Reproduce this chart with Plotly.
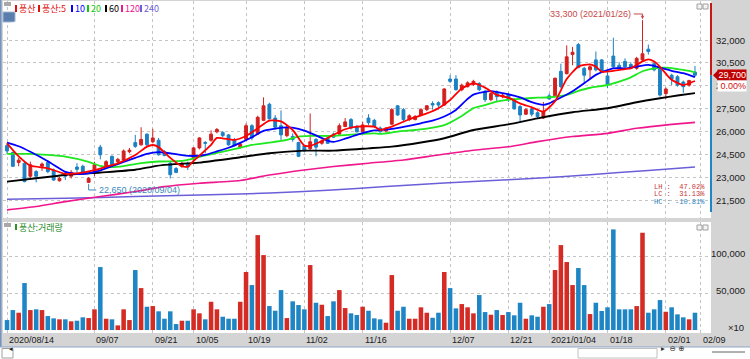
import plotly.graph_objects as go

# ---------------- data ----------------
dates = [
    "2020-08-14", "2020-08-18", "2020-08-19", "2020-08-20", "2020-08-21", "2020-08-24", "2020-08-25",
    "2020-08-26", "2020-08-27", "2020-08-28", "2020-08-31", "2020-09-01", "2020-09-02", "2020-09-03",
    "2020-09-04", "2020-09-07", "2020-09-08", "2020-09-09", "2020-09-10", "2020-09-11", "2020-09-14",
    "2020-09-15", "2020-09-16", "2020-09-17", "2020-09-18", "2020-09-21", "2020-09-22", "2020-09-23",
    "2020-09-24", "2020-09-25", "2020-09-28", "2020-09-29", "2020-10-05", "2020-10-06", "2020-10-07",
    "2020-10-08", "2020-10-12", "2020-10-13", "2020-10-14", "2020-10-15", "2020-10-16", "2020-10-19",
    "2020-10-20", "2020-10-21", "2020-10-22", "2020-10-23", "2020-10-26", "2020-10-27", "2020-10-28",
    "2020-10-29", "2020-10-30", "2020-11-02", "2020-11-03", "2020-11-04", "2020-11-05", "2020-11-06",
    "2020-11-09", "2020-11-10", "2020-11-11", "2020-11-12", "2020-11-13", "2020-11-16", "2020-11-17",
    "2020-11-18", "2020-11-19", "2020-11-20", "2020-11-23", "2020-11-24", "2020-11-25", "2020-11-26",
    "2020-11-27", "2020-11-30", "2020-12-01", "2020-12-02", "2020-12-03", "2020-12-04", "2020-12-07",
    "2020-12-08", "2020-12-09", "2020-12-10", "2020-12-11", "2020-12-14", "2020-12-15", "2020-12-16",
    "2020-12-17", "2020-12-18", "2020-12-21", "2020-12-22", "2020-12-23", "2020-12-24", "2020-12-28",
    "2020-12-29", "2020-12-30", "2021-01-04", "2021-01-05", "2021-01-06", "2021-01-07", "2021-01-08",
    "2021-01-11", "2021-01-12", "2021-01-13", "2021-01-14", "2021-01-15", "2021-01-18", "2021-01-19",
    "2021-01-20", "2021-01-21", "2021-01-22", "2021-01-25", "2021-01-26", "2021-01-27", "2021-01-28",
    "2021-01-29", "2021-02-01", "2021-02-02", "2021-02-03", "2021-02-04", "2021-02-05", "2021-02-08",
]

opens = [25100, 24650, 24000, 23950, 23100, 23400, 23750, 24000, 23500, 22800,
         23300, 23100, 23700, 23750, 22700, 23300, 25000, 23750, 24400, 24050,
         24150, 24700, 25300, 25150, 25850, 25350, 25450, 24700, 23950, 23600,
         23750, 23900, 24250, 24950, 25300, 25450, 26000, 25950, 25800, 25500,
         25000, 25500, 26400, 25850, 26750, 27800, 26900, 26400, 25750, 25700,
         25300, 25100, 24900, 25500, 25250, 25600, 25850, 25850, 26350, 26800,
         26350, 26000, 26900, 26750, 26250, 26050, 26500, 27700, 27450, 26800,
         26800, 27100, 27450, 27850, 27900, 27750, 29450, 29450, 28750, 28950,
         29100, 29150, 28650, 28100, 28600, 28300, 28450, 28100, 27650, 27150,
         27500, 27250, 26900, 28350, 28350, 29950, 29800, 31050, 31700, 30150,
         30050, 30700, 30700, 29650, 30950, 30350, 30600, 30400, 30150, 30700,
         31400, 30450, 30150, 28500, 29700, 29600, 29250, 29050, 29900]
highs = [25250, 24700, 24300, 24050, 24050, 23500, 24000, 24150, 23600, 23050,
         23400, 23500, 23950, 23850, 23050, 24050, 25150, 24150, 24450, 24300,
         24850, 24950, 25800, 26300, 25900, 26200, 25600, 24800, 24050, 23700,
         24050, 24050, 25000, 25650, 25400, 26100, 26250, 26050, 25850, 25600,
         25300, 26550, 26500, 27050, 28250, 27900, 27100, 27400, 26400, 25900,
         25350, 25150, 27200, 25600, 25500, 25700, 25950, 26550, 26900, 26900,
         26450, 26650, 27150, 26850, 26350, 26300, 27550, 27750, 27550, 27150,
         27100, 27550, 27750, 28000, 28000, 28850, 29700, 29700, 29150, 29300,
         29400, 29250, 28750, 28600, 28700, 28500, 28550, 28200, 27750, 27550,
         27650, 27350, 27950, 28500, 29550, 30450, 31650, 31550, 31800, 30250,
         30400, 31250, 30750, 29900, 32150, 30550, 30800, 30550, 30900, 33300,
         31700, 30600, 30250, 28900, 29800, 29700, 29350, 29400, 30300]
lows = [24550, 23700, 23750, 22700, 22950, 22700, 23450, 23300, 22800, 22750,
        22850, 22950, 23300, 23250, 22650, 23100, 24200, 23650, 23750, 23950,
        24100, 24600, 24950, 25100, 25050, 25250, 24450, 24400, 22950, 23300,
        23650, 23500, 24150, 24850, 24600, 25350, 25900, 25650, 25100, 25050,
        24900, 25450, 25450, 25800, 26700, 26800, 26150, 25450, 25650, 25350,
        24350, 24700, 24800, 24400, 25150, 25200, 25600, 25800, 26300, 26150,
        25950, 25950, 26450, 26250, 25950, 25950, 26450, 27050, 26700, 26700,
        26750, 27050, 27350, 27450, 27450, 27700, 29200, 28700, 28650, 28900,
        29000, 28650, 27950, 28000, 28000, 28200, 27950, 27450, 26700, 27100,
        27000, 26900, 26850, 28100, 28300, 28850, 29750, 30350, 30150, 29150,
        29500, 29950, 29900, 28850, 30150, 30100, 30150, 30100, 30050, 30600,
        31050, 29950, 28300, 28150, 29050, 28950, 28550, 28950, 29600]
closes = [24750, 23750, 24150, 22750, 23850, 23100, 23900, 23400, 22850, 22950,
          23100, 23350, 23550, 23300, 22950, 23850, 24500, 24050, 23850, 24200,
          24750, 24800, 25050, 25500, 25150, 25600, 24500, 24450, 23200, 23350,
          23950, 23700, 24950, 25600, 25250, 25850, 26150, 25750, 25150, 25100,
          25200, 26400, 25600, 26950, 27700, 26850, 26300, 25800, 26300, 25500,
          24400, 24750, 25350, 25000, 25400, 25250, 25650, 26400, 26650, 26250,
          26000, 26450, 26600, 26350, 26000, 26250, 27450, 27100, 26800, 27050,
          27000, 27450, 27700, 27750, 27750, 28800, 29300, 28750, 29050, 29200,
          29300, 28750, 28100, 28500, 28300, 28400, 28100, 27500, 27100, 27450,
          27150, 27000, 27300, 28150, 29500, 28950, 30900, 31200, 30200, 29700,
          30250, 30050, 29950, 29100, 30250, 30150, 30250, 30150, 30800, 31100,
          31250, 30050, 28400, 28800, 29450, 29050, 28950, 29350, 29700]

# volume, in axis units (x10)
volumes = [13500, 27000, 23400, 63500, 27000, 28000, 27000, 18900, 15800, 14500,
           14500, 11800, 12600, 17200, 16200, 28000, 85100, 15300, 14500, 6300,
           28000, 13500, 81100, 56700, 31500, 32400, 25300, 15300, 25300, 8100,
           12600, 12600, 28000, 22600, 14500, 38200, 28000, 18000, 15300, 15300,
           38200, 78400, 60800, 128300, 101300, 32400, 26100, 54000, 16200, 38800,
           33800, 28000, 87800, 36900, 34200, 18900, 38800, 54000, 29700, 22600,
           20300, 31500, 26100, 15800, 14500, 9900, 74300, 26100, 31500, 15300,
           15300, 30700, 23400, 16600, 23400, 78400, 56700, 29300, 35100, 30700,
           22600, 47300, 24300, 20700, 27000, 20300, 24300, 19900, 36900, 15300,
           19900, 18000, 31500, 35100, 81100, 114800, 91900, 60800, 83800, 60800,
           21600, 36900, 25700, 30700, 136000, 28000, 28000, 28000, 32400, 131500,
           23400, 28000, 40500, 24700, 30700, 21200, 17200, 14500, 23400]
# R = red (up) bar, B = blue (down) bar
vol_dir = ("BBRBRBRBBR" "BRBBRRBRBR" "RRBRBRBBBB" "RBRRBRRBBB" "RRBRRBBBRB"
           "BBRBRBBRRB" "BRBBBRRBBR" "RRRBBRBBRR" "RBBRBRBBBR" "BBRBRRRRBB"
           "RBBBBBBBRR" "BBBRBBBRB")

# moving averages: sample points (trading-day index, price)
ma5_x = [0, 2, 4, 7, 10, 12, 15, 17, 19, 22, 24, 25, 26, 28, 30, 31, 32, 35, 36, 39, 41, 43, 45, 47,
         49, 51, 52, 54, 56, 58, 60, 63, 64, 66, 69, 72, 74, 76, 78, 80, 82, 84, 86, 88, 90, 92, 94,
         96, 98, 100, 101, 102, 104, 106, 107, 109, 110, 111, 112, 113, 114, 116, 117, 118]
ma5_y = [25250, 24400, 23800, 23620, 23250, 23290, 23500, 23720, 23940, 24480, 25030, 25140, 25000,
         24300, 23750, 23730, 24100, 25150, 25600, 25470, 25730, 26230, 26730, 26680, 26120, 25100,
         25080, 25400, 25800, 26170, 26340, 26340, 26120, 26340, 26820, 27200, 27540, 28080, 28830,
         29170, 28890, 28410, 28230, 27860, 27600, 27320, 28000, 29450, 30260, 30410, 30260, 29930,
         29980, 30100, 30150, 30600, 30740, 30590, 30250, 29800, 29400, 29050, 29170, 29320]
ma10_x = [0, 2, 4, 7, 9, 10, 12, 14, 16, 18, 20, 22, 24, 26, 27, 30, 32, 34, 36, 38, 40, 42, 44, 46,
          48, 50, 51, 53, 55, 56, 58, 60, 63, 64, 66, 68, 71, 73, 75, 77, 79, 80, 83, 85, 88, 90, 92,
          93, 95, 97, 99, 101, 104, 106, 108, 110, 112, 114, 116, 118]
ma10_y = [25300, 25060, 24700, 24080, 23600, 23380, 23250, 23290, 23480, 23750, 24030, 24300, 24560,
          24680, 24650, 24480, 24420, 24500, 24720, 24960, 25280, 25650, 26060, 26210, 26290, 26200,
          26080, 25770, 25420, 25340, 25550, 25800, 26090, 26120, 26190, 26320, 26560, 26730, 27000,
          27430, 28150, 28430, 28660, 28530, 28250, 27940, 27760, 27860, 28240, 28650, 29170, 29720,
          30150, 30150, 30260, 30370, 30200, 29990, 29830, 29580]
ma20_x = [0, 4, 7, 10, 14, 16, 18, 20, 23, 26, 30, 32, 34, 38, 40, 42, 45, 48, 50, 52, 56, 59, 63,
          64, 67, 70, 72, 75, 78, 80, 82, 84, 87, 89, 91, 93, 96, 98, 100, 103, 105, 107, 109, 111,
          113, 115, 117, 118]
ma20_y = [24560, 24560, 24490, 24380, 24040, 23770, 23690, 23760, 23960, 24060, 24100, 24250, 24460,
          24790, 24960, 25140, 25300, 25480, 25680, 25730, 25730, 25820, 25900, 25860, 26010, 26120,
          26210, 26440, 27040, 27550, 27750, 27970, 28130, 28190, 28230, 28260, 28420, 28670, 28880,
          29060, 29280, 29560, 29960, 30150, 30190, 30100, 29980, 29880]
ma60_x = [0, 5, 10, 16, 22, 25, 27, 33, 40, 45, 51, 56, 62, 66, 71, 75, 80, 86, 91, 97, 103, 108,
          112, 115, 118]
ma60_y = [22750, 22970, 23180, 23340, 23520, 23730, 23840, 23990, 24340, 24600, 24770, 24770, 24920,
          25030, 25300, 25580, 26120, 26490, 26880, 27280, 27540, 27930, 28190, 28370, 28530]
ma120_x = [0, 5, 10, 16, 22, 27, 33, 40, 45, 51, 56, 62, 68, 74, 80, 86, 91, 97, 103, 108, 114, 118]
ma120_y = [20900, 21120, 21440, 21770, 22100, 22420, 22640, 22820, 23180, 23510, 23730, 23950,
           24160, 24490, 24800, 25030, 25360, 25690, 25900, 26230, 26490, 26620]
ma240_x = [0, 10, 22, 33, 40, 50, 60, 70, 80, 90, 100, 110, 118]
ma240_y = [21590, 21660, 21770, 21880, 21940, 22080, 22300, 22550, 22750, 22950, 23200, 23480, 23710]

price_ticks = [21500, 23000, 24500, 26000, 27500, 29000, 30500, 32000]
volume_ticks = [50000, 100000]
date_ticks = [("2020-08-14", "2020/08/14"), ("2020-09-07", "09/07"), ("2020-09-21", "09/21"),
              ("2020-10-05", "10/05"), ("2020-10-19", "10/19"), ("2020-11-02", "11/02"),
              ("2020-11-16", "11/16"), ("2020-12-07", "12/07"), ("2020-12-21", "12/21"),
              ("2021-01-04", "2021/01/04"), ("2021-01-18", "01/18"), ("2021-02-01", "02/01"),
              ("2021-02-09", "02/09")]

last_price = 29700
last_change = "0.00%"
high_point = (33300, "2021-01-26")
low_point = (22650, "2020-09-04")
stats = [("LH :  47.02%", "#c83434"), ("LC :  31.13%", "#c83434"), ("HC : -10.81%", "#2a82c0")]

# ---------------- layout helpers (pixel -> paper) ----------------
W, H = 750, 359
ML, MR, MT, MB = 3, 39, 1, 26


def px(x):
    return (x - ML) / (W - ML - MR)


def py(y):
    return (H - MB - y) / (H - MT - MB)


RED = "#d22020"
BLUE = "#1c80c4"
GRID = "#c4c4c4"
NUMFONT = "Liberation Sans"
KFONT = "Noto Sans CJK KR"

idx = list(range(len(dates)))
tick_pos = [dates.index(d) if d in dates else len(dates) for d, _ in date_ticks]

fig = go.Figure()

fig.add_trace(go.Candlestick(
    x=idx, open=opens, high=highs, low=lows, close=closes,
    increasing=dict(line=dict(color=RED, width=1), fillcolor=RED),
    decreasing=dict(line=dict(color=BLUE, width=1), fillcolor=BLUE),
    whiskerwidth=0, showlegend=False, hoverinfo="skip", xaxis="x", yaxis="y"))

ma_specs = [(ma240_x, ma240_y, "#6a5fd8", 1.5), (ma120_x, ma120_y, "#f0168c", 1.6),
            (ma60_x, ma60_y, "#000000", 1.9), (ma20_x, ma20_y, "#1ee81e", 1.8),
            (ma10_x, ma10_y, "#0000ff", 1.8), (ma5_x, ma5_y, "#ff0000", 1.8)]
for mx, my, col, wdt in ma_specs:
    fig.add_trace(go.Scatter(x=mx, y=my, mode="lines",
                             line=dict(color=col, width=wdt, shape="spline", smoothing=0.6),
                             showlegend=False, hoverinfo="skip", xaxis="x", yaxis="y"))

vol_colors = ["#d42b25" if c == "R" else "#1f86c6" for c in vol_dir]
fig.add_trace(go.Bar(x=idx, y=volumes, marker=dict(color=vol_colors, line=dict(width=0)),
                     width=0.78, showlegend=False, hoverinfo="skip", xaxis="x2", yaxis="y2"))

xr = [-0.69, 120.75]
common_x = dict(range=xr, showticklabels=False, tickvals=tick_pos, showgrid=True,
                gridcolor=GRID, griddash="dot", gridwidth=1, zeroline=False,
                showline=False, ticks="", fixedrange=True)
fig.update_layout(
    width=W, height=H,
    margin=dict(l=ML, r=MR, t=MT, b=MB),
    paper_bgcolor="#d4d4d4", plot_bgcolor="#ffffff",
    showlegend=False, boxgap=0.3,
    xaxis=dict(anchor="y", domain=[0, 1], rangeslider=dict(visible=False), **common_x),
    xaxis2=dict(anchor="y2", domain=[0, 1], matches="x", **common_x),
    yaxis=dict(domain=[py(218), 1], range=[20370, 34548], side="right", tickvals=price_ticks,
               showticklabels=False, showgrid=True, gridcolor=GRID, griddash="dot",
               zeroline=False, showline=False, ticks=""),
    yaxis2=dict(domain=[0, py(222)], range=[-4000, 146000], side="right", tickvals=volume_ticks,
                showticklabels=False, showgrid=True, gridcolor=GRID, griddash="dot",
                zeroline=False, showline=False, ticks=""),
)

shapes = []
ann = []

# right-edge current price indicator
shapes.append(dict(type="line", xref="paper", yref="y", x0=1, x1=1, y0=last_price, y1=34420,
                   line=dict(color="#c81818", width=2)))
shapes.append(dict(type="line", xref="paper", yref="y", x0=1, x1=1, y0=20770, y1=last_price,
                   line=dict(color="#1f86c6", width=2)))
# window left border
shapes.append(dict(type="line", xref="paper", yref="paper", x0=px(0.8), x1=px(0.8), y0=py(347),
                   y1=py(0), line=dict(color="#7090c0", width=1.5)))
# bottom scroll strip
shapes.append(dict(type="rect", xref="paper", yref="paper", x0=px(0), x1=px(750), y0=py(359),
                   y1=py(347), fillcolor="#ffffff", line=dict(width=0)))
shapes.append(dict(type="line", xref="paper", yref="paper", x0=px(0), x1=px(750), y0=py(347),
                   y1=py(347), line=dict(color="#8fa6c6", width=1)))
shapes.append(dict(type="rect", xref="paper", yref="paper", x0=px(2), x1=px(13), y0=py(358),
                   y1=py(348.5), fillcolor="#ffffff", line=dict(color="#a0a0a0", width=1)))
shapes.append(dict(type="rect", xref="paper", yref="paper", x0=px(578), x1=px(657), y0=py(358),
                   y1=py(348.5), fillcolor="#ffffff", line=dict(color="#c0c0c0", width=1)))
shapes.append(dict(type="line", xref="paper", yref="paper", x0=px(712), x1=px(745), y0=py(352),
                   y1=py(352), line=dict(color="#606060", width=1)))
# pane corner icons
for ytop in (2, 223):
    shapes.append(dict(type="rect", xref="paper", yref="paper", x0=px(4), x1=px(11), y0=py(ytop + 4),
                       y1=py(ytop), fillcolor="#a8a8a8", line=dict(width=0)))
    for xl in (697, 703):
        shapes.append(dict(type="rect", xref="paper", yref="paper", x0=px(xl), x1=px(xl + 5),
                           y0=py(ytop + 7), y1=py(ytop + 2), fillcolor="#f4f4f4",
                           line=dict(color="#a0a0a0", width=1)))
# "文" icon
shapes.append(dict(type="rect", xref="paper", yref="paper", x0=px(3), x1=px(15), y0=py(22),
                   y1=py(12), fillcolor="#5a7eab", line=dict(color="#9fb6d2", width=1)))
ann.append(dict(text="文", xref="paper", yref="paper", x=px(9), y=py(17), showarrow=False,
                font=dict(family=KFONT, size=8, color="#ffffff")))

# legend row (price pane)
legend_items = [("풍산", "#e01010", 15), ("풍산:5", "#e01010", 38), ("10", "#0000ff", 71),
                ("20", "#10c810", 87), ("60", "#000000", 105), ("120", "#f0168c", 121),
                ("240", "#6a5fd8", 140)]
for txt, col, xl in legend_items:
    shapes.append(dict(type="rect", xref="paper", yref="paper", x0=px(xl), x1=px(xl + 2),
                       y0=py(12), y1=py(5), fillcolor=col, line=dict(width=0)))
    ann.append(dict(text=txt, xref="paper", yref="paper", x=px(xl + 2), y=py(8.5), xanchor="left",
                    yanchor="middle", showarrow=False, font=dict(family=KFONT, size=9, color=col)))

# volume legend
shapes.append(dict(type="rect", xref="paper", yref="paper", x0=px(15), x1=px(17), y0=py(230),
                   y1=py(224), fillcolor="#2a962a", line=dict(width=0)))
ann.append(dict(text="풍산:거래량", xref="paper", yref="paper", x=px(17), y=py(227), xanchor="left",
                yanchor="middle", showarrow=False, font=dict(family=KFONT, size=9, color="#2a8a2a")))

# high / low markers
hx = dates.index(high_point[1])
lx = dates.index(low_point[1])
hi_txt_y = 33700
lo_txt_y = 22200
ann.append(dict(text=f"{high_point[0]:,} ({high_point[1].replace('-', '/')})", x=hx - 1.6,
                y=hi_txt_y, xref="x", yref="y", xanchor="right", yanchor="middle", showarrow=False,
                font=dict(family=NUMFONT, size=9, color="#c84848")))
shapes.append(dict(type="path", xref="x", yref="y",
                   path=f"M {hx - 1.5},{hi_txt_y} L {hx},{hi_txt_y} L {hx},{high_point[0] + 250}",
                   line=dict(color="#c84848", width=1)))
ann.append(dict(text="", x=hx, y=high_point[0] + 60, ax=hx, ay=high_point[0] + 300, xref="x",
                yref="y", axref="x", ayref="y", showarrow=True, arrowhead=2, arrowsize=0.7,
                arrowwidth=1, arrowcolor="#c84848"))
ann.append(dict(text=f"{low_point[0]:,} ({low_point[1].replace('-', '/')})", x=lx + 1.4,
                y=lo_txt_y, xref="x", yref="y", xanchor="left", yanchor="middle", showarrow=False,
                font=dict(family=NUMFONT, size=9, color="#3a88bc")))
shapes.append(dict(type="path", xref="x", yref="y",
                   path=f"M {lx},{low_point[0] - 60} L {lx},{lo_txt_y} L {lx + 1.3},{lo_txt_y}",
                   line=dict(color="#3a88bc", width=1)))

# LH / LC / HC
for i, (txt, col) in enumerate(stats):
    ann.append(dict(text=txt, xref="paper", yref="paper", x=px(706), y=py(187 + 7.5 * i),
                    xanchor="right", yanchor="middle", showarrow=False, borderpad=0,
                    font=dict(family="Liberation Mono", size=7, color=col)))

# price axis labels
for v in price_ticks:
    if abs(v - last_price) < 500:
        continue
    ann.append(dict(text=f"{v:,}", xref="paper", yref="y", x=1, y=v, xanchor="right",
                    yanchor="middle", xshift=36, showarrow=False,
                    font=dict(family=NUMFONT, size=9.5, color="#202020")))
# current price marker, price box and change box
shapes.append(dict(type="path", xref="paper", yref="y", xsizemode="pixel", xanchor=1,
                   path="M 2,%d L 7,%d L 7,%d Z" % (last_price, last_price + 330, last_price - 330),
                   fillcolor="#c00000", line=dict(width=0)))
ann.append(dict(text=f"{last_price:,}", xref="paper", yref="y", x=1, y=last_price, xanchor="right",
                yanchor="middle", xshift=36, showarrow=False, bgcolor="#c00000", borderpad=0,
                width=28, height=10, align="right",
                font=dict(family=NUMFONT, size=9, color="#ffffff")))
ann.append(dict(text=last_change, xref="paper", yref="y", x=1, y=last_price, xanchor="right",
                yanchor="middle", xshift=36, yshift=-11, showarrow=False, bgcolor="#ffffff",
                borderpad=0, width=28, height=10, align="right",
                font=dict(family=NUMFONT, size=9, color="#d01010")))

# volume axis labels
for v in volume_ticks:
    ann.append(dict(text=f"{v:,}", xref="paper", yref="y2", x=1, y=v, xanchor="right",
                    yanchor="middle", xshift=36, yshift=3, showarrow=False,
                    font=dict(family=NUMFONT, size=9.5, color="#202020")))
ann.append(dict(text="×10", xref="paper", yref="paper", x=px(746), y=py(327), xanchor="right",
                yanchor="middle", showarrow=False,
                font=dict(family=NUMFONT, size=9.5, color="#202020")))

# date labels
for pos, (_, lab) in zip(tick_pos, date_ticks):
    ann.append(dict(text=lab, xref="x2", yref="paper", x=pos, y=py(340), xanchor="left",
                    yanchor="middle", xshift=1, showarrow=False, borderpad=0,
                    font=dict(family=NUMFONT, size=9, color="#202020")))

# scroll strip glyphs
ann.append(dict(text="◂", xref="paper", yref="paper", x=px(7.5), y=py(354), showarrow=False,
                borderpad=0, font=dict(family="DejaVu Sans", size=7, color="#202020")))
ann.append(dict(text="▸  ⊖ ⊕", xref="paper", yref="paper", x=px(660), y=py(354),
                xanchor="left", showarrow=False, borderpad=0,
                font=dict(family="DejaVu Sans", size=7.5, color="#303030")))

fig.update_layout(shapes=shapes, annotations=ann)
fig.write_html("out.html", config={"displayModeBar": False},
               post_script="document.body.style.margin='0';")
